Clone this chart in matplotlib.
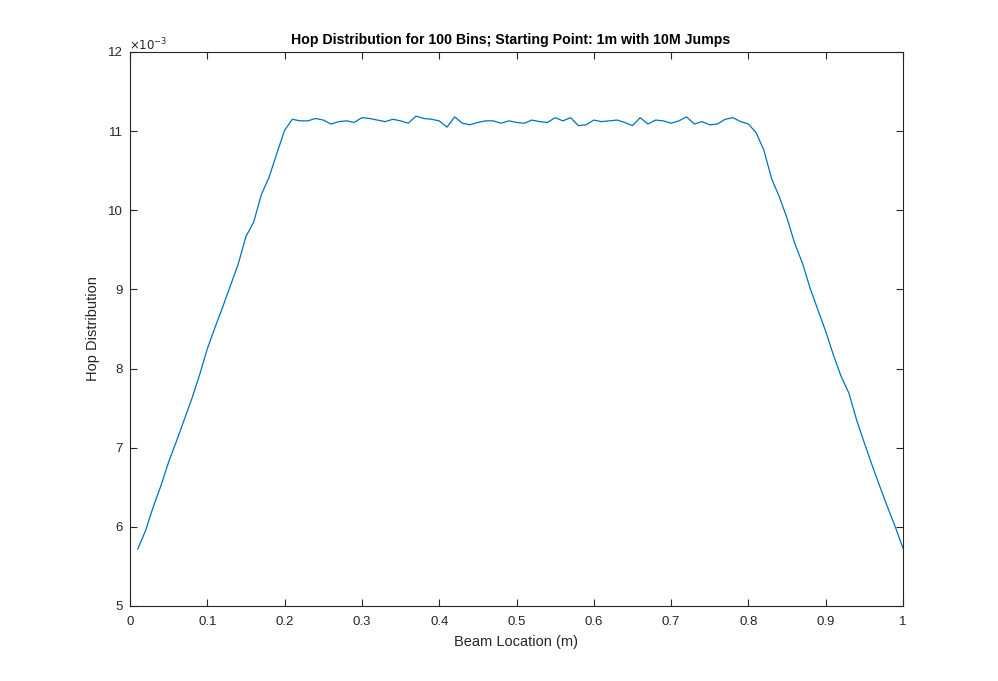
import numpy as np
import matplotlib
matplotlib.use('Agg')
import matplotlib.pyplot as plt

plt.rcParams['font.family'] = ['Liberation Sans', 'DejaVu Sans']

# 数据：100个分箱的位置和跳跃分布（单位 1e-3）
beam_location = [round(0.01 * i, 2) for i in range(1, 101)]
hop_dist_milli = [
    5.72, 5.95, 6.25, 6.52, 6.82, 7.08, 7.35, 7.62, 7.92, 8.25,
    8.52, 8.78, 9.05, 9.32, 9.67, 9.85, 10.20, 10.42, 10.72, 11.01,
    11.15, 11.13, 11.13, 11.16, 11.14, 11.09, 11.12, 11.13, 11.11, 11.17,
    11.16, 11.14, 11.12, 11.15, 11.13, 11.10, 11.19, 11.16, 11.15, 11.13,
    11.05, 11.18, 11.10, 11.08, 11.11, 11.13, 11.13, 11.10, 11.13, 11.11,
    11.10, 11.14, 11.12, 11.11, 11.17, 11.13, 11.17, 11.07, 11.08, 11.14,
    11.12, 11.13, 11.14, 11.11, 11.07, 11.17, 11.09, 11.14, 11.13, 11.10,
    11.13, 11.18, 11.09, 11.12, 11.08, 11.09, 11.15, 11.17, 11.12, 11.09,
    10.98, 10.76, 10.40, 10.17, 9.90, 9.58, 9.33, 9.01, 8.74, 8.47,
    8.17, 7.90, 7.69, 7.35, 7.06, 6.78, 6.51, 6.25, 6.00, 5.73,
]
x_ticks = [0, 0.1, 0.2, 0.3, 0.4, 0.5, 0.6, 0.7, 0.8, 0.9, 1]
x_tick_labels = ['0', '0.1', '0.2', '0.3', '0.4', '0.5', '0.6', '0.7', '0.8', '0.9', '1']
y_ticks = [5, 6, 7, 8, 9, 10, 11, 12]

hop_dist = np.array(hop_dist_milli) * 1e-3

fig = plt.figure(figsize=(9.98, 6.81), dpi=100)
ax = fig.add_axes([130 / 998, 75 / 681, 773 / 998, 554 / 681])

ax.plot(beam_location, hop_dist, color='#0072BD', lw=0.9)

ax.set_xlim(0, 1)
ax.set_ylim(5e-3, 12e-3)
ax.set_xticks(x_ticks)
ax.set_xticklabels(x_tick_labels)
ax.set_yticks([v * 1e-3 for v in y_ticks])
ax.set_yticklabels([str(v) for v in y_ticks])

# MATLAB 风格：四边刻度朝内
ax.tick_params(direction='in', length=5, width=0.8, top=True, right=True,
               labelsize=9.5, colors='#262626')
ax.tick_params(axis='x', pad=7)
ax.tick_params(axis='y', pad=5)
for s in ax.spines.values():
    s.set_color('#262626')
    s.set_linewidth(0.8)

ax.text(-0.001, 0.998, r'$\times10^{-3}$', transform=ax.transAxes, fontsize=8.5,
        color='#262626', ha='left', va='bottom')

ax.set_xlabel('Beam Location (m)', fontsize=10.5, color='#262626', labelpad=5)
ax.set_ylabel('Hop Distribution', fontsize=10.5, color='#262626', labelpad=6)
ax.set_title('Hop Distribution for 100 Bins; Starting Point: 1m with 10M Jumps',
             fontsize=10.2, fontweight='bold', color='black', pad=6, x=0.492)

fig.savefig('out.png', dpi=100)
